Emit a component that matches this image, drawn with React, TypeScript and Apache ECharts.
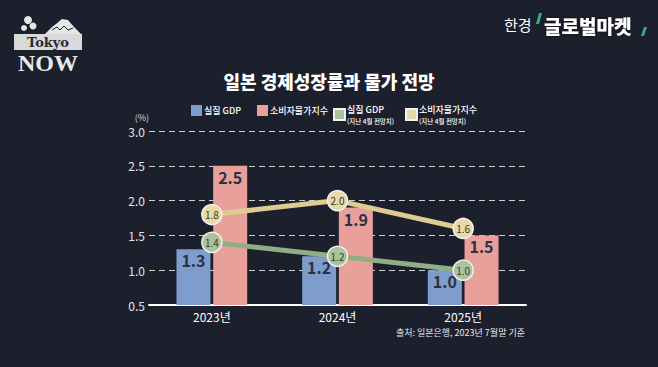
import React, { useEffect, useRef } from "react";
import * as echarts from "echarts";

const categories = ["2023년", "2024년", "2025년"];
const gdp = [1.3, 1.2, 1.0];
const cpi = [2.5, 1.9, 1.5];
const gdpApril = [1.4, 1.2, 1.0];
const cpiApril = [1.8, 2.0, 1.6];
const yTicks = [0.5, 1.0, 1.5, 2.0, 2.5, 3.0];

const nameGdp = "실질 GDP";
const nameCpi = "소비자물가지수";
const nameGdpApr = "실질 GDP (지난 4월 전망치)";
const nameCpiApr = "소비자물가지수 (지난 4월 전망치)";

const FONT = "'Noto Sans CJK KR', 'Noto Sans', sans-serif";

export default function App() {
  const ref = useRef<HTMLDivElement>(null);
  useEffect(() => {
    if (!ref.current) return;
    const chart = echarts.init(ref.current, null, { renderer: "svg" });
    const barLabel = {
      show: true,
      position: "insideTop",
      distance: 3,
      color: "#2b3142",
      fontSize: 16,
      fontWeight: "bold",
      fontFamily: FONT,
      formatter: (p: any) => Number(p.value).toFixed(1),
    };
    const lineLabel = {
      show: true,
      position: "inside",
      color: "#3a3a2a",
      fontSize: 10,
      fontFamily: FONT,
      formatter: (p: any) => Number(p.value).toFixed(1),
    };
    const legendBase = {
      top: 100,
      itemWidth: 11,
      itemHeight: 11,
      icon: "rect",
      textStyle: {
        color: "#ffffff",
        fontSize: 9,
        fontFamily: FONT,
        padding: [0, 0, 0, -3],
        rich: {
          a: { color: "#ffffff", fontSize: 9, fontWeight: 500, fontFamily: FONT, lineHeight: 12 },
          b: { color: "#ffffff", fontSize: 6.5, fontWeight: 500, fontFamily: FONT, lineHeight: 10 },
        },
      },
      formatter: (name: string) => {
        if (name === nameGdpApr) return "{a|실질 GDP}\n{b|(지난 4월 전망치)}";
        if (name === nameCpiApr) return "{a|소비자물가지수}\n{b|(지난 4월 전망치)}";
        return "{a|" + name + "}";
      },
    };
    chart.setOption({
      animation: false,
      backgroundColor: "#1c1f2c",
      textStyle: { fontFamily: FONT },
      title: {
        text: "일본 경제성장률과 물가 전망",
        left: "center",
        top: 67,
        textStyle: { color: "#ffffff", fontSize: 18, fontWeight: 900, fontFamily: FONT },
      },
      legend: [
        { ...legendBase, left: 186, data: [nameGdp] },
        { ...legendBase, left: 252, data: [nameCpi] },
        { ...legendBase, left: 328, data: [nameGdpApr] },
        { ...legendBase, left: 400, data: [nameCpiApr] },
      ],
      grid: { left: 149, right: 132, top: 131, bottom: 62 },
      xAxis: {
        type: "category",
        data: categories,
        axisLine: { lineStyle: { color: "#ffffff", width: 2 } },
        axisTick: { show: false },
        axisLabel: { color: "#ffffff", fontSize: 12, margin: 5, fontFamily: FONT },
      },
      yAxis: {
        type: "value",
        min: yTicks[0],
        max: yTicks[yTicks.length - 1],
        interval: 0.5,
        name: "(%)",
        nameLocation: "end",
        nameGap: 9,
        nameTextStyle: { color: "#dddddd", fontSize: 9, align: "right", padding: [0, 0, 0, 0] },
        axisLine: { show: false },
        axisTick: { show: false },
        axisLabel: {
          color: "#e6e6e6",
          fontSize: 12,
          margin: 4,
          formatter: (v: number) => v.toFixed(1),
        },
        splitLine: { lineStyle: { color: "#cfcfcf", type: [6, 4], width: 1.2 } },
      },
      series: [
        {
          name: nameGdp,
          type: "bar",
          data: gdp,
          barWidth: 34,
          barGap: "8%",
          itemStyle: { color: "#7e9dcd" },
          label: barLabel,
          z: 2,
        },
        {
          name: nameCpi,
          type: "bar",
          data: cpi,
          barWidth: 34,
          itemStyle: { color: "#e9a09b" },
          label: barLabel,
          z: 2,
        },
        {
          name: nameGdpApr,
          type: "line",
          data: gdpApril,
          symbol: "circle",
          symbolSize: 20,
          lineStyle: { color: "#8fae86", width: 5 },
          itemStyle: { color: "#a9c49d", borderColor: "#f2f2f2", borderWidth: 1.5 },
          label: lineLabel,
          z: 5,
        },
        {
          name: nameCpiApr,
          type: "line",
          data: cpiApril,
          symbol: "circle",
          symbolSize: 20,
          lineStyle: { color: "#dccb92", width: 5 },
          itemStyle: { color: "#e8d9a6", borderColor: "#f2f2f2", borderWidth: 1.5 },
          label: lineLabel,
          z: 5,
        },
      ],
      graphic: [
        {
          type: "text",
          right: 133,
          top: 328,
          style: {
            text: "출처: 일본은행, 2023년 7월말 기준",
            fill: "#e8e8e8",
            fontSize: 9,
            fontFamily: FONT,
          },
        },
        // Tokyo NOW logo
        {
          type: "polygon",
          shape: { points: [[44, 35], [52, 27], [56, 24], [62, 19], [68, 20], [74, 27], [82, 35]] },
          style: { fill: "#e6e6e6" },
        },
        {
          type: "polyline",
          shape: { points: [[52, 30], [57, 27], [60, 30], [64, 26], [68, 30], [73, 28]] },
          style: { stroke: "#1c1f2c", lineWidth: 1, fill: "none" },
        },
        { type: "circle", shape: { cx: 28, cy: 20, r: 4 }, style: { fill: "#e6e6e6" } },
        { type: "circle", shape: { cx: 33, cy: 26, r: 3.5 }, style: { fill: "#e6e6e6" } },
        { type: "circle", shape: { cx: 24, cy: 28, r: 3 }, style: { fill: "#e6e6e6" } },
        { type: "rect", shape: { x: 14, y: 34, width: 68, height: 16 }, style: { fill: "#d9d9d9" } },
        {
          type: "text",
          x: 48,
          y: 42,
          style: {
            text: "Tokyo",
            fill: "#2a2a2a",
            fontSize: 13,
            fontWeight: "bold",
            fontFamily: "'DejaVu Serif', 'Liberation Serif', serif",
            align: "center",
            verticalAlign: "middle",
          },
        },
        {
          type: "text",
          x: 48,
          y: 63,
          style: {
            text: "NOW",
            fill: "#e8e8e8",
            fontSize: 24,
            fontWeight: "bold",
            fontFamily: "'Liberation Serif', 'DejaVu Serif', serif",
            align: "center",
            verticalAlign: "middle",
          },
        },
        // 한경 글로벌마켓
        {
          type: "text",
          x: 504,
          y: 24,
          style: {
            text: "한경",
            fill: "#ffffff",
            fontSize: 15,
            fontFamily: FONT,
            verticalAlign: "middle",
          },
        },
        {
          type: "polygon",
          shape: { points: [[539, 13], [542, 13], [539, 24], [536, 24]] },
          style: { fill: "#2fae8c" },
        },
        {
          type: "text",
          x: 544,
          y: 25,
          style: {
            text: "글로벌마켓",
            fill: "#ffffff",
            fontSize: 19,
            fontWeight: 900,
            fontFamily: FONT,
            verticalAlign: "middle",
            textShadowColor: "rgba(0,0,0,0.6)",
            textShadowBlur: 2,
          },
        },
        {
          type: "polygon",
          shape: { points: [[644, 27], [647, 27], [644, 36], [641, 36]] },
          style: { fill: "#2fae8c" },
        },
      ],
    });
    return () => chart.dispose();
  }, []);
  return (
    <div
      ref={ref}
      style={{ position: "fixed", left: 0, top: 0, width: 658, height: 367 }}
    />
  );
}
